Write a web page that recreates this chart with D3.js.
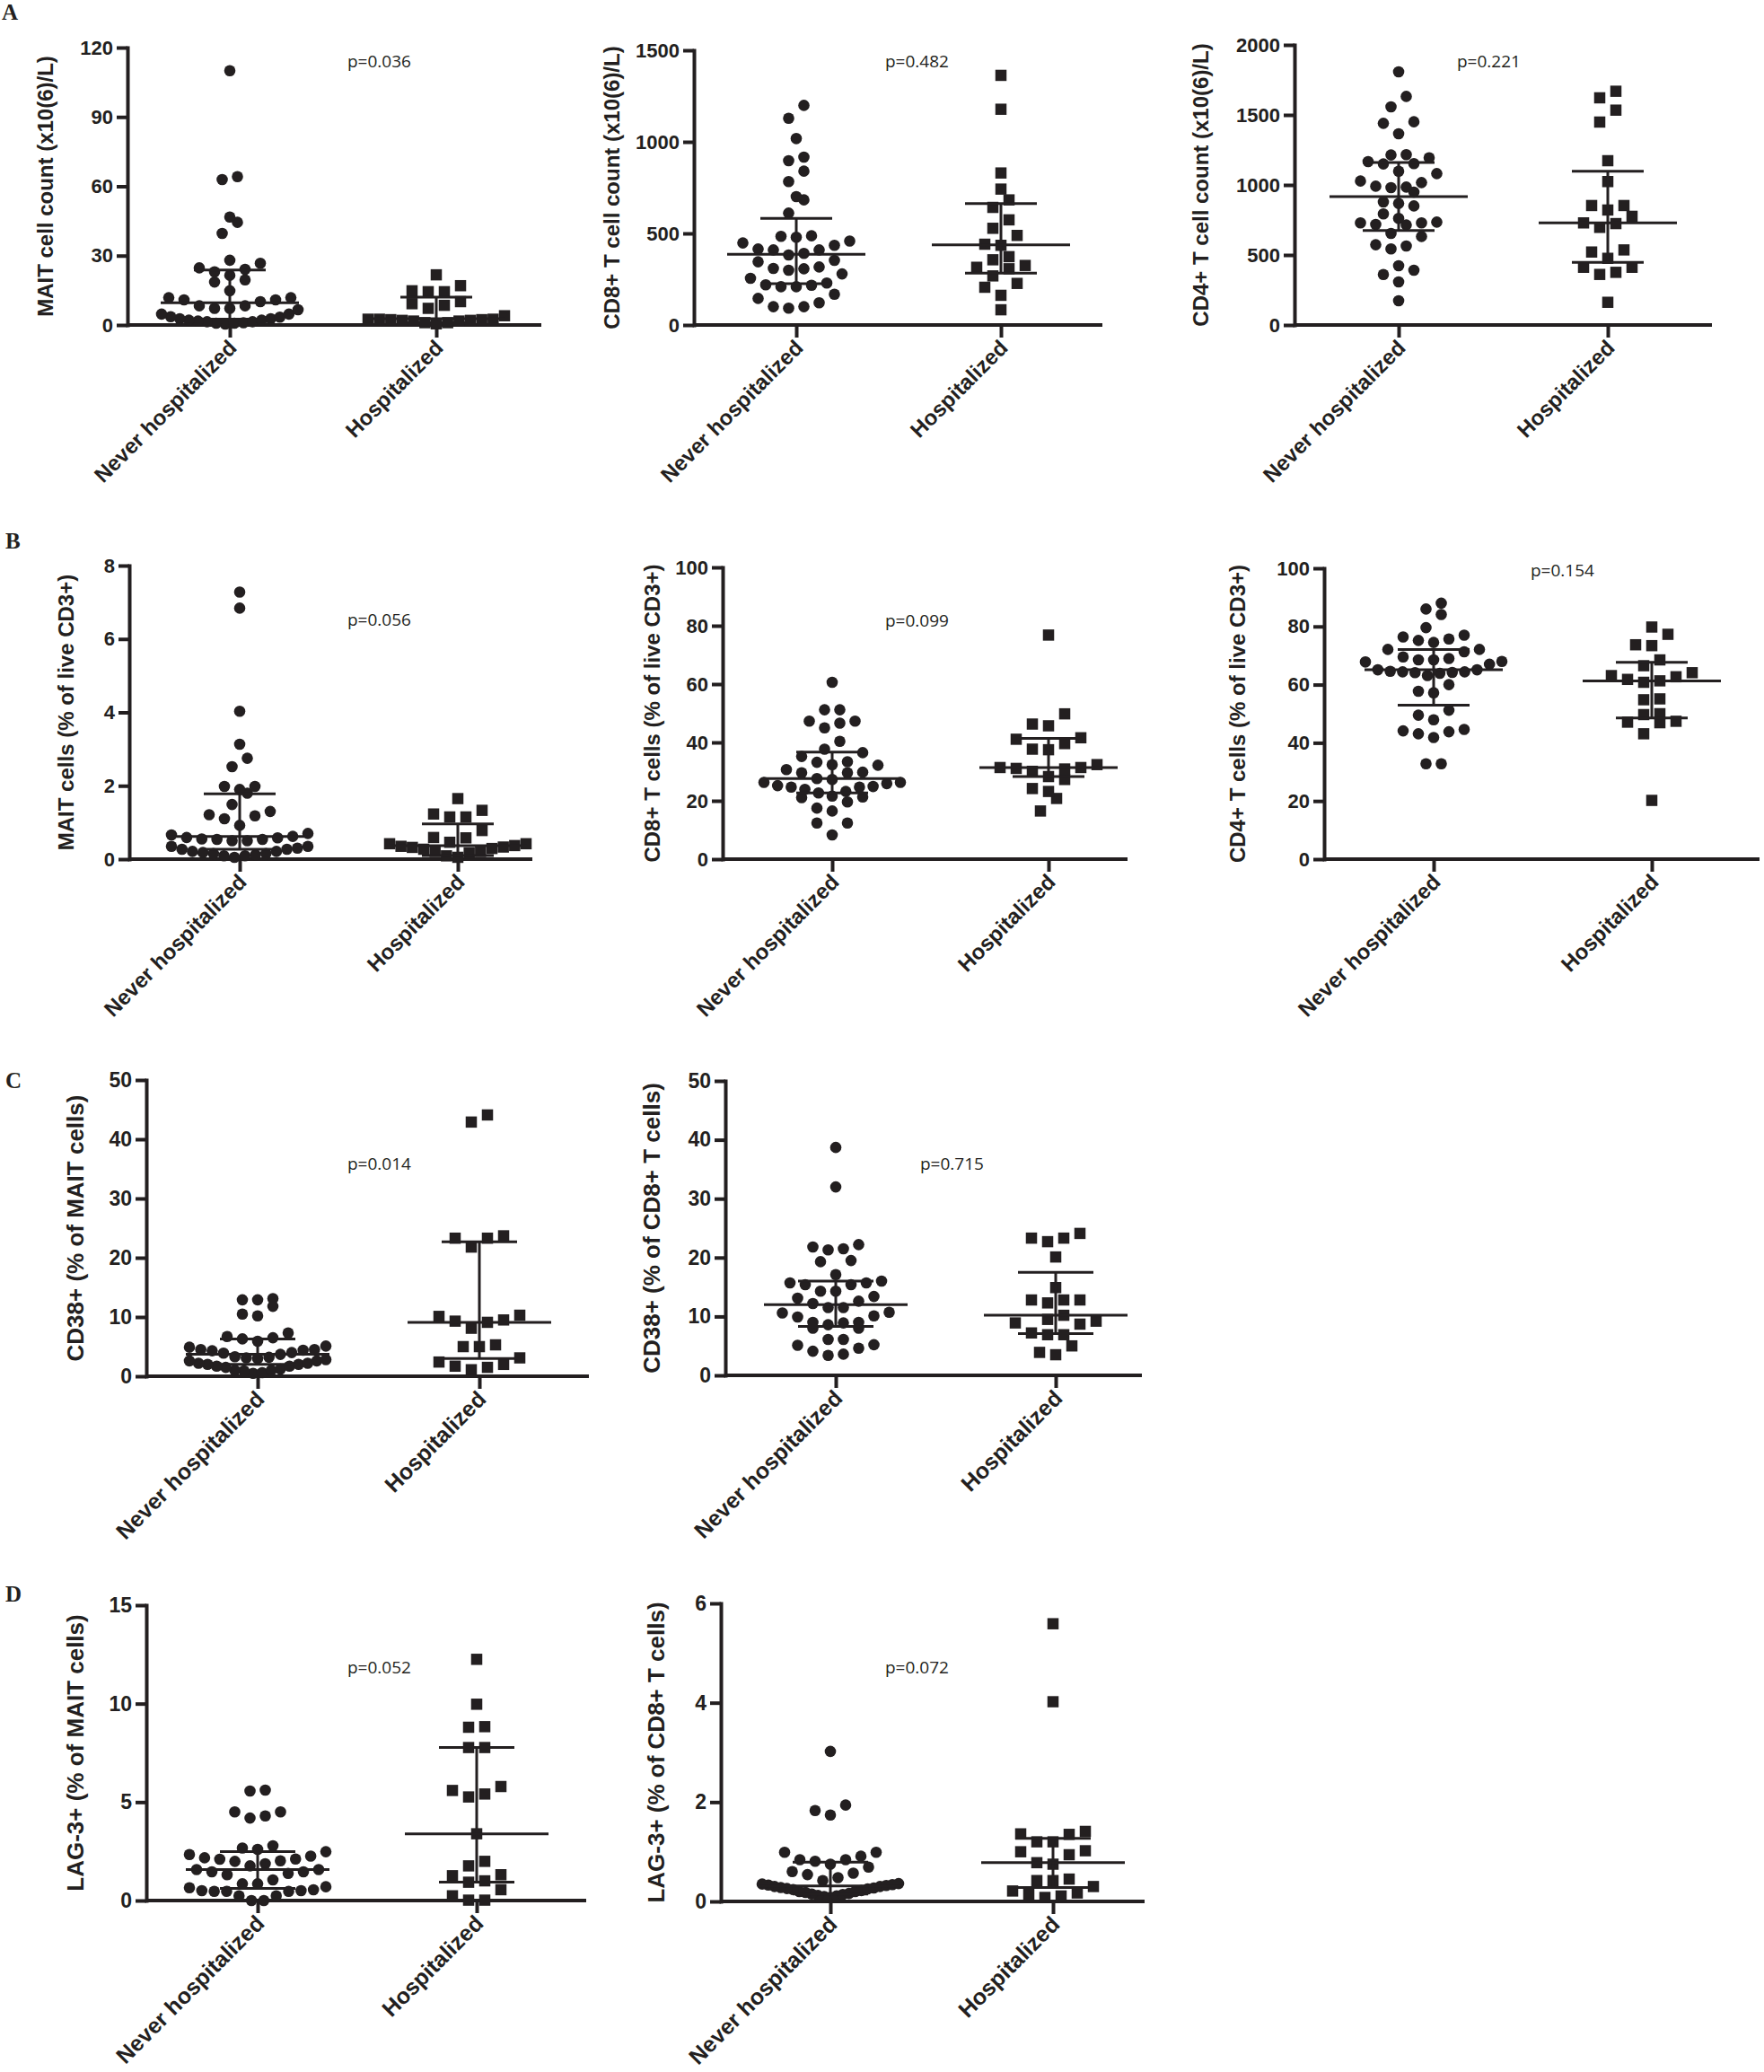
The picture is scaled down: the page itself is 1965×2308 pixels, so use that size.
<!DOCTYPE html>
<html><head><meta charset="utf-8">
<script src="https://cdn.jsdelivr.net/npm/d3@7"></script>
<style>
body{margin:0;background:#fff;}
svg{display:block;background:#fff;}
</style></head><body>
<svg id="chart" width="1965" height="2308"></svg>
<script>
const categories = ["Never hospitalized", "Hospitalized"];

// ---------- Panel A1: MAIT cell count ----------
const maitCountNever = [110, 64.2, 62.9, 46.7, 44.4, 39.6, 28, 26.7, 24.7, 24.1, 23, 21.5, 19.5, 18.6, 14.8, 11.8, 11.8, 10.9, 10.9, 10.1, 8.3, 8.3, 7.2, 7.2, 6.6, 4.7, 4.7, 3.6, 3.4, 2.7, 2.7, 2.1, 2.1, 1.4, 1.4, 0.8, 0.8, 0.4, 1.0, 1.7];
const maitCountHosp = [21.7, 17, 14.8, 14.4, 14.4, 10.1, 8.5, 7.2, 9.2, 4.0, 2.5, 2.5, 2.3, 2.0, 1.7, 1.0, 0.5, 1.0, 1.7, 2.0, 2.3, 2.5];
const maitCountIQR = [[2.5, 9.6, 23.8], [1.0, 2.7, 12.0]];   // [q1, median, q3]
const maitCountTicks = [0, 30, 60, 90, 120];

// ---------- Panel A2: CD8+ T cell count ----------
const cd8CountNever = [1199, 1129, 1018, 917, 897, 840, 783, 701, 683, 611, 484, 458, 435, 410, 410, 415, 448, 479, 487, 382, 391, 345, 353, 309, 299, 307, 317, 255, 279, 219, 209, 209, 217, 229, 145, 168, 100, 92, 100, 121];
const cd8CountHosp = [1363, 1178, 830, 742, 683, 642, 574, 528, 489, 441, 435, 356, 373, 307, 315, 325, 268, 227, 206, 162, 83];
const cd8CountIQR = [[225, 386, 582], [283, 438, 663]];
const cd8CountTicks = [0, 500, 1000, 1500];

// ---------- Panel A3: CD4+ T cell count ----------
const cd4CountNever = [1808, 1632, 1558, 1440, 1451, 1365, 1216, 1167, 1150, 1152, 1194, 1214, 1081, 1098, 1017, 985, 981, 991, 1028, 949, 878, 850, 868, 761, 729, 718, 714, 729, 735, 793, 654, 632, 573, 543, 564, 423, 361, 308, 391, 173];
const cd4CountHosp = [1669, 1622, 1534, 1449, 1173, 1024, 853, 853, 821, 776, 724, 729, 697, 521, 536, 476, 412, 412, 376, 361, 162];
const cd4CountIQR = [[675, 917, 1160], [447, 729, 1098]];
const cd4CountTicks = [0, 500, 1000, 1500, 2000];

// ---------- Panel B1: MAIT % of live CD3+ ----------
const maitPctNever = [7.28, 6.84, 4.03, 3.13, 2.75, 2.52, 1.98, 1.80, 1.90, 1.98, 1.49, 1.21, 1.10, 1.18, 1.30, 0.92, 0.70, 0.62, 0.58, 0.54, 0.54, 0.55, 0.59, 0.66, 0.50, 0.50, 0.35, 0.27, 0.21, 0.15, 0.09, 0.05, 0.09, 0.15, 0.21, 0.27, 0.35, 0.12, 0.18, 0.30];
const maitPctHosp = [1.65, 1.33, 1.23, 1.15, 1.15, 0.78, 0.59, 0.58, 0.46, 0.42, 0.37, 0.33, 0.29, 0.21, 0.17, 0.21, 0.27, 0.32, 0.35, 0.42, 0.09, 0.05];
const maitPctIQR = [[0.27, 0.62, 1.78], [0.10, 0.37, 0.96]];
const maitPctTicks = [0, 2, 4, 6, 8];

// ---------- Panel B2: CD8+ % of live CD3+ ----------
const cd8PctNever = [60.6, 51.2, 51.2, 47.3, 46.6, 45.0, 47.3, 40.4, 37.7, 36.5, 35.2, 33.4, 32.4, 30.7, 29.6, 29.6, 29.8, 32.2, 33.2, 27.3, 26.3, 25.2, 24.7, 23.9, 22.7, 23.2, 24.7, 24.9, 25.9, 26.3, 27.6, 21.6, 21.1, 21.3, 19.6, 17.5, 16.5, 12.4, 12.4, 8.3];
const cd8PctHosp = [76.8, 49.8, 45.7, 46.3, 41.1, 41.6, 39.6, 37.7, 37.5, 31.4, 31.4, 30.1, 30.9, 31.1, 32.4, 28.3, 27.3, 24.2, 23.2, 20.8, 16.5];
const cd8PctIQR = [[22.7, 27.6, 36.7], [28.3, 31.4, 41.4]];
const pctTicks = [0, 20, 40, 60, 80, 100];

// ---------- Panel B3: CD4+ % of live CD3+ ----------
const cd4PctNever = [88.0, 84.1, 86.0, 79.6, 77.0, 75.7, 74.5, 75.2, 76.4, 72.1, 71.3, 72.1, 69.0, 68.5, 67.8, 65.1, 64.4, 64.1, 63.9, 64.2, 64.4, 64.6, 65.1, 67.0, 68.0, 68.5, 69.5, 63.1, 60.0, 57.7, 57.2, 51.2, 49.5, 47.9, 44.1, 43.1, 41.8, 43.8, 44.6, 32.8, 32.8];
const cd4PctHosp = [79.8, 77.3, 73.7, 73.4, 68.5, 66.5, 64.1, 62.7, 63.1, 61.3, 60.8, 61.8, 54.8, 55.1, 49.7, 50.0, 47.4, 46.9, 47.1, 43.1, 20.2];
const cd4PctIQR = [[52.9, 65.1, 72.1], [48.5, 61.3, 67.7]];

// ---------- Panel C1: CD38+ % of MAIT ----------
const cd38MaitNever = [12.9, 11.8, 12.9, 13.1, 10.5, 10.2, 7.3, 6.5, 5.9, 6.3, 6.7, 4.9, 4.5, 4.3, 3.7, 3.9, 4.0, 4.4, 4.5, 5.1, 3.3, 3.1, 2.6, 2.2, 2.0, 1.7, 1.5, 1.7, 2.0, 2.2, 2.6, 3.0, 3.2, 1.0, 0.9, 1.0, 0.5, 0.6, 1.2, 2.8];
const cd38MaitHosp = [42.9, 44.1, 23.7, 23.3, 23.3, 21.8, 10.1, 9.3, 8.1, 9.1, 9.5, 10.3, 5.0, 5.0, 5.3, 2.4, 1.7, 1.1, 1.5, 2.0, 3.1];
const cd38MaitIQR = [[2.0, 3.7, 6.3], [3.0, 9.1, 22.7]];
const cd38Ticks = [0, 10, 20, 30, 40, 50];

// ---------- Panel C2: CD38+ % of CD8+ ----------
const cd38Cd8Never = [38.7, 32.0, 22.2, 21.8, 21.5, 21.3, 19.5, 19.3, 17.1, 16.0, 15.7, 15.4, 15.4, 15.7, 14.3, 14.3, 13.4, 13.1, 12.6, 12.2, 11.5, 11.5, 10.7, 10.6, 10.1, 9.9, 9.0, 9.0, 8.9, 8.6, 8.0, 8.0, 6.1, 6.1, 5.1, 5.2, 4.1, 4.6, 3.4, 3.6];
const cd38Cd8Hosp = [24.1, 23.3, 23.3, 22.7, 20.1, 14.9, 12.8, 12.8, 12.3, 12.8, 10.2, 9.2, 8.7, 8.9, 9.5, 6.9, 6.9, 7.2, 5.0, 3.5, 3.9];
const cd38Cd8IQR = [[8.3, 12.0, 16.0], [7.1, 10.2, 17.5]];

// ---------- Panel D1: LAG-3+ % of MAIT ----------
const lag3MaitNever = [5.56, 5.61, 4.50, 4.30, 4.19, 4.50, 2.78, 2.60, 2.34, 2.17, 2.10, 1.99, 2.02, 2.11, 2.26, 2.48, 2.67, 1.76, 1.57, 1.46, 1.31, 1.05, 1.38, 1.46, 1.57, 1.87, 0.85, 0.65, 0.50, 0.47, 0.47, 0.24, 0.0, 0.0, 0.24, 0.47, 0.50, 0.55, 0.70, 0.85];
const lag3MaitHosp = [12.25, 9.97, 8.80, 8.83, 7.77, 7.77, 5.79, 5.59, 5.26, 5.41, 3.39, 1.99, 1.76, 1.31, 1.26, 1.00, 0.93, 0.55, 0.24, 0.02, 0.02];
const lag3MaitIQR = [[0.62, 1.57, 2.48], [0.93, 3.39, 7.77]];
const lag3MaitTicks = [0, 5, 10, 15];

// ---------- Panel D2: LAG-3+ % of CD8+ ----------
const lag3Cd8Never = [3.02, 1.94, 1.83, 1.74, 0.99, 0.99, 0.91, 0.84, 0.84, 0.81, 0.69, 0.75, 0.57, 0.48, 0.54, 0.60, 0.42, 0.36, 0.35, 0.34, 0.32, 0.30, 0.28, 0.26, 0.24, 0.22, 0.20, 0.18, 0.16, 0.14, 0.12, 0.10, 0.08, 0.30, 0.25, 0.20, 0.15, 0.33, 0.27, 0.11];
const lag3Cd8Hosp = [5.59, 4.02, 1.36, 1.41, 1.35, 1.20, 1.20, 1.02, 1.00, 0.94, 0.78, 0.75, 0.45, 0.42, 0.42, 0.30, 0.21, 0.17, 0.14, 0.08, 0.11];
const lag3Cd8IQR = [[0.15, 0.31, 0.79], [0.28, 0.78, 1.27]];
const lag3Cd8Ticks = [0, 2, 4, 6];

const pValues = ["p=0.036", "p=0.482", "p=0.221", "p=0.056", "p=0.099", "p=0.154", "p=0.014", "p=0.715", "p=0.052", "p=0.072"];
const yTitles = ["MAIT cell count (x10(6)/L)", "CD8+ T cell count (x10(6)/L)", "CD4+ T cell count (x10(6)/L)",
  "MAIT cells (% of live CD3+)", "CD8+ T cells (% of live CD3+)", "CD4+ T cells (% of live CD3+)",
  "CD38+ (% of MAIT cells)", "CD38+ (% of CD8+ T cells)", "LAG-3+ (% of MAIT cells)", "LAG-3+ (% of CD8+ T cells)"];
const panelLetters = ["A", "B", "C", "D"];

// ---------- layout (positions only) ----------
const layout = [
  {x0:142,  xEnd:603,  cx:[256,486],   yTop:53,   yBot:362,  tX:59,   pX:387,  pY:75,   big:false},
  {x0:773,  xEnd:1228, cx:[887,1115],  yTop:56,   yBot:362,  tX:690,  pX:986,  pY:75,   big:false},
  {x0:1442, xEnd:1907, cx:[1558,1791], yTop:50,   yBot:362,  tX:1346, pX:1623, pY:75,   big:false},
  {x0:144,  xEnd:593,  cx:[267,510],   yTop:630,  yBot:957,  tX:82,   pX:387,  pY:697,  big:false},
  {x0:805,  xEnd:1256, cx:[927,1168],  yTop:632,  yBot:957,  tX:735,  pX:986,  pY:698,  big:false},
  {x0:1475, xEnd:1960, cx:[1597,1840], yTop:633,  yBot:957,  tX:1387, pX:1705, pY:642,  big:false},
  {x0:163,  xEnd:656,  cx:[287,534],   yTop:1203, yBot:1533, tX:93,   pX:387,  pY:1303, big:true},
  {x0:808,  xEnd:1272, cx:[931,1176],  yTop:1204, yBot:1532, tX:735,  pX:1025, pY:1303, big:true},
  {x0:163,  xEnd:653,  cx:[287,531],   yTop:1788, yBot:2117, tX:93,   pX:387,  pY:1864, big:true},
  {x0:803,  xEnd:1275, cx:[925,1173],  yTop:1786, yBot:2118, tX:740,  pX:986,  pY:1864, big:true}
];
const panelData = [
  [maitCountNever, maitCountHosp, maitCountIQR, maitCountTicks],
  [cd8CountNever, cd8CountHosp, cd8CountIQR, cd8CountTicks],
  [cd4CountNever, cd4CountHosp, cd4CountIQR, cd4CountTicks],
  [maitPctNever, maitPctHosp, maitPctIQR, maitPctTicks],
  [cd8PctNever, cd8PctHosp, cd8PctIQR, pctTicks],
  [cd4PctNever, cd4PctHosp, cd4PctIQR, pctTicks],
  [cd38MaitNever, cd38MaitHosp, cd38MaitIQR, cd38Ticks],
  [cd38Cd8Never, cd38Cd8Hosp, cd38Cd8IQR, cd38Ticks],
  [lag3MaitNever, lag3MaitHosp, lag3MaitIQR, lag3MaitTicks],
  [lag3Cd8Never, lag3Cd8Hosp, lag3Cd8IQR, lag3Cd8Ticks]
];
const letterPos = [[2,22],[6,611],[6,1212],[6,1784]];

const INK = "#231f20";
const SANS = "Liberation Sans, Arial, Helvetica, sans-serif";
const svg = d3.select("#chart");

function boldText(sel, size) {
  return sel.attr("font-family", SANS).attr("font-weight", "700").attr("font-size", size + "px").attr("fill", INK);
}

// Prism-like scatter: group close values into rows, spread each row horizontally
function swarm(values, y, cx, thr, step, maxSpan) {
  const sorted = values.slice().sort((a, b) => a - b);
  const rows = []; let cur = null;
  sorted.forEach(v => {
    if (!cur || y(cur[0]) - y(v) > thr) { cur = [v]; rows.push(cur); } else cur.push(v);
  });
  const out = [];
  rows.forEach(r => {
    const n = r.length;
    const s = n > 1 ? Math.min(step, maxSpan / (n - 1)) : 0;
    const slots = d3.range(n).map(i => i - (n - 1) / 2)
      .sort((a, b) => Math.abs(a) - Math.abs(b) || a - b);
    r.forEach((v, i) => out.push({ v, x: cx + slots[i] * s, y: y(v) }));
  });
  return out;
}

letterPos.forEach((lp, i) => {
  svg.append("text").attr("x", lp[0]).attr("y", lp[1]).text(panelLetters[i])
    .attr("font-family", "Liberation Serif, Times New Roman, serif")
    .attr("font-weight", "700").attr("font-size", "25px").attr("fill", INK);
});

layout.forEach((L, k) => {
  const [never, hosp, iqr, ticks] = panelData[k];
  const fs = L.big ? { tick: 23, title: 26, cat: 25, mw: 80, cw: 42 } : { tick: 22, title: 24, cat: 24, mw: 77, cw: 40 };
  const g = svg.append("g");
  const y = d3.scaleLinear().domain([0, d3.max(ticks)]).range([L.yBot, L.yTop]);
  const x = d3.scalePoint().domain(categories).range(L.cx);

  // y axis
  const ya = g.append("g").attr("transform", `translate(${L.x0},0)`)
    .call(d3.axisLeft(y).tickValues(ticks).tickFormat(d3.format("d"))
      .tickSize(12).tickSizeOuter(0).tickPadding(4));
  ya.select(".domain").attr("stroke", INK).attr("stroke-width", 4).attr("stroke-linecap", "square");
  ya.selectAll(".tick line").attr("stroke", INK).attr("stroke-width", 4);
  boldText(ya, fs.tick);
  ya.selectAll(".tick text").attr("fill", INK);

  // x axis
  g.append("line").attr("x1", L.x0).attr("x2", L.xEnd).attr("y1", L.yBot).attr("y2", L.yBot)
    .attr("stroke", INK).attr("stroke-width", 4);
  const xa = g.append("g").attr("transform", `translate(0,${L.yBot})`)
    .call(d3.axisBottom(x).tickSize(14).tickFormat(""));
  xa.select(".domain").remove();
  xa.selectAll(".tick line").attr("stroke", INK).attr("stroke-width", 4);

  categories.forEach(c => {
    boldText(g.append("text"), fs.cat)
      .attr("transform", `translate(${x(c) + 9},${L.yBot + 27}) rotate(-45)`)
      .attr("text-anchor", "end")
      .text(c);
  });

  // y title
  boldText(g.append("text"), fs.title)
    .attr("transform", `translate(${L.tX},${(L.yTop + L.yBot) / 2}) rotate(-90)`)
    .attr("text-anchor", "middle")
    .text(yTitles[k]);

  // p value
  g.append("text").attr("x", L.pX).attr("y", L.pY).attr("fill", INK)
    .attr("font-family", "Open Sans, Noto Sans, sans-serif").attr("font-size", "19px")
    .text(pValues[k]);

  // points
  const nPts = swarm(never, y, x(categories[0]), 16, 17, 152);
  g.append("g").selectAll("circle").data(nPts).join("circle")
    .attr("cx", d => d.x).attr("cy", d => d.y).attr("r", 6.3).attr("fill", INK);
  const hPts = swarm(hosp, y, x(categories[1]), 16, 18, 152);
  const side = 12.5;
  g.append("g").selectAll("rect").data(hPts).join("rect")
    .attr("x", d => d.x - side / 2).attr("y", d => d.y - side / 2)
    .attr("width", side).attr("height", side).attr("fill", INK);

  // median + interquartile range
  categories.forEach((c, i) => {
    const [q1, med, q3] = iqr[i];
    const cx = x(c);
    const eg = g.append("g").attr("stroke", INK).attr("stroke-width", 3);
    eg.append("line").attr("x1", cx).attr("x2", cx).attr("y1", y(q1)).attr("y2", y(q3));
    eg.append("line").attr("x1", cx - fs.mw).attr("x2", cx + fs.mw).attr("y1", y(med)).attr("y2", y(med));
    [q1, q3].forEach(q => eg.append("line").attr("x1", cx - fs.cw).attr("x2", cx + fs.cw).attr("y1", y(q)).attr("y2", y(q)));
  });
});
</script></body></html>
